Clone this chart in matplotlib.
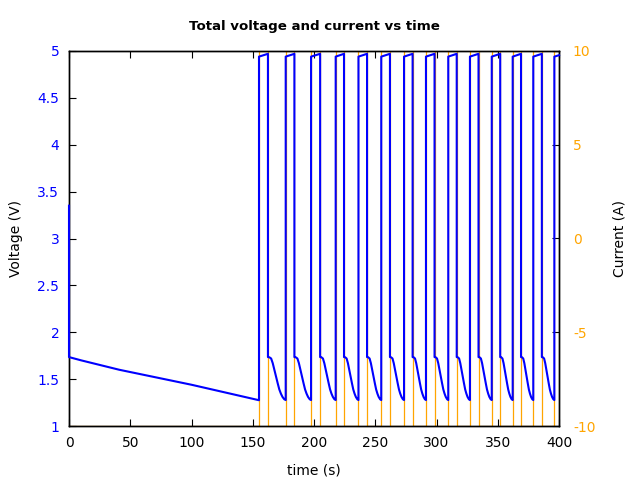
import numpy as np
import matplotlib
matplotlib.use("Agg")
import matplotlib.pyplot as plt

plt.rcParams['axes.unicode_minus'] = False

# --- data ---
# first stretch: slow discharge before pulsing starts
t_start = [0.0, 0.0, 10.0, 41.0, 100.0]
v_start = [3.35, 1.735, 1.70, 1.60, 1.44]

# pulse edges (s)
rise_times = [155.1, 176.9, 197.6, 217.7, 236.3, 254.9, 273.5,
              291.4, 309.6, 327.3, 345.1, 362.2, 379.0, 396.2]
fall_times = [162.4, 184.0, 205.0, 224.5, 243.3, 262.0, 280.5,
              298.4, 316.5, 334.3, 352.0, 369.0, 386.0]

v_high_start = 4.94
v_high_end = 4.97
v_before_rise = 1.275

# shape of the recovery between pulses (fraction of low phase, volts)
low_frac = [0.0, 0.08, 0.18, 0.27, 0.36, 0.45, 0.55, 0.64, 0.73, 0.82, 0.92, 1.0]
low_volt = [1.735, 1.733, 1.72, 1.67, 1.60, 1.53, 1.455, 1.39, 1.345, 1.31, 1.285, 1.277]

t_end = 400.0
i_low, i_high = -10, 10

# --- build voltage trace ---
tv = list(t_start) + [rise_times[0]]
vv = list(v_start) + [v_before_rise]
for k, r in enumerate(rise_times):
    tv.append(r); vv.append(v_high_start)
    if k < len(fall_times):
        f = fall_times[k]
        tv.append(f); vv.append(v_high_end)
        nxt = rise_times[k + 1]
        for fr, v in zip(low_frac, low_volt):
            tv.append(f + fr * (nxt - f)); vv.append(v)
    else:
        tv.append(t_end); vv.append(4.955)

# --- build current trace (steps) ---
ti = [0.0]
ci = [i_low]
for k, r in enumerate(rise_times):
    ti.append(r); ci.append(i_high)
    if k < len(fall_times):
        ti.append(fall_times[k]); ci.append(i_low)
ti.append(t_end); ci.append(ci[-1])

blue = '#0000ff'
orange = '#ffa500'

fig = plt.figure(figsize=(6.4, 4.8), dpi=100)
ax = fig.add_axes([69/640, 1-426/480, 490/640, 375/480])
ax2 = ax.twinx()

ax2.plot(ti, ci, drawstyle='steps-post', color=orange, linewidth=0.9)
ax.plot(tv, vv, color=blue, linewidth=1.5, zorder=3, clip_on=False)

ax.set_zorder(ax2.get_zorder() + 1)
ax.patch.set_visible(False)

ax.set_xlim(0, 400)
ax.set_ylim(1, 5)
ax2.set_ylim(-10, 10)
ax.set_xticks(np.arange(0, 401, 50))
ax.set_yticks(np.arange(1, 5.01, 0.5))
ax.set_yticklabels(['1', '1.5', '2', '2.5', '3', '3.5', '4', '4.5', '5'])
ax2.set_yticks([-10, -5, 0, 5, 10])

ax.tick_params(axis='both', direction='in', length=5, labelsize=10)
ax.tick_params(axis='x', top=True, pad=7)
ax.tick_params(axis='y', labelcolor=blue, right=False, pad=7)
ax2.tick_params(axis='y', direction='in', length=5, labelsize=10,
                labelcolor=orange, pad=10)

for a in (ax, ax2):
    for s in a.spines.values():
        s.set_linewidth(1.0)

ax.set_xlabel("time (s)", fontsize=10, labelpad=10)
ax.set_ylabel("Voltage (V)", fontsize=10, labelpad=10)
ax2.set_ylabel("Current (A)", fontsize=10, labelpad=12)
ax.set_title("Total voltage and current vs time", fontsize=9.6,
             fontweight='bold', pad=15)

fig.savefig("out.png", dpi=100)
